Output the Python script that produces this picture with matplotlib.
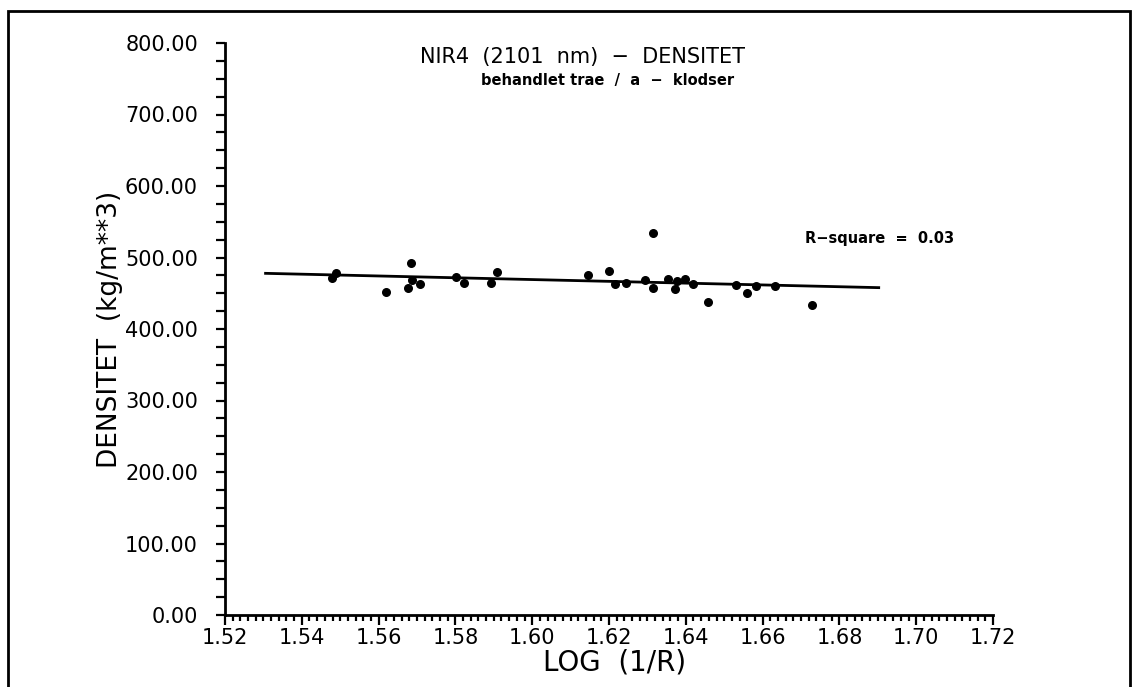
import matplotlib

matplotlib.use("Agg")
import matplotlib.pyplot as plt
from matplotlib.patches import Rectangle
from matplotlib.ticker import MultipleLocator, FormatStrFormatter

log_r = [
    1.5478, 1.5489, 1.5618, 1.5684, 1.5677, 1.5686, 1.5708, 1.5801, 1.5823,
    1.5892, 1.5909, 1.6145, 1.6201, 1.6216, 1.6244, 1.6294, 1.6315, 1.6315,
    1.6354, 1.6372, 1.6378, 1.6398, 1.6418, 1.6457, 1.6531, 1.6559, 1.6583,
    1.6632, 1.6729,
]
densitet = [
    471.7, 478.7, 451.3, 492.3, 456.9, 468.5, 462.5, 473.2, 464.8,
    463.9, 479.3, 475.5, 481.5, 462.5, 464.8, 468.5, 458.0, 534.7,
    469.5, 455.5, 467.1, 469.5, 463.0, 438.2, 461.1, 450.8, 459.7,
    459.7, 433.1,
]

# regression line end points
fit_x = [1.5302, 1.6906]
fit_y = [477.9, 457.8]

r_square = 0.03

W, H = 1138, 687
fig = plt.figure(figsize=(W / 100, H / 100), dpi=100)
ax = fig.add_axes([225 / W, 1 - 615 / H, (993 - 225) / W, (615 - 43) / H])

ax.plot(fit_x, fit_y, color="black", lw=2.0, solid_capstyle="butt")
ax.scatter(log_r, densitet, s=30, color="black", zorder=3)

ax.set_xlim(1.52, 1.72)
ax.set_ylim(0, 800)
ax.xaxis.set_major_locator(MultipleLocator(0.02))
ax.xaxis.set_minor_locator(MultipleLocator(0.002))
ax.yaxis.set_major_locator(MultipleLocator(100))
ax.yaxis.set_minor_locator(MultipleLocator(25))
ax.xaxis.set_major_formatter(FormatStrFormatter("%.2f"))
ax.yaxis.set_major_formatter(FormatStrFormatter("%.2f"))

for side in ("top", "right"):
    ax.spines[side].set_visible(False)
for side in ("left", "bottom"):
    ax.spines[side].set_linewidth(2.0)

ax.tick_params(axis="both", which="both", direction="out", width=1.6, labelsize=15)
ax.tick_params(axis="x", which="major", length=7, pad=2)
ax.tick_params(axis="x", which="minor", length=4.5)
ax.tick_params(axis="y", which="major", length=6.5, pad=13)
ax.tick_params(axis="y", which="minor", length=6.5)

ax.set_xlabel("LOG  (1/R)", fontsize=20)
ax.xaxis.set_label_coords((615 - 225) / (993 - 225), -(649 - 615) / (615 - 43))
ax.set_ylabel("DENSITET  (kg/m**3)", fontsize=19)
ax.yaxis.set_label_coords(-(225 - 123) / (993 - 225), 0.5)

fig.text(583 / W, 1 - 57 / H, "NIR4  (2101  nm)  \u2212  DENSITET",
         fontsize=15, ha="center", va="center")
fig.text(608 / W, 1 - 80 / H, "behandlet trae  /  a  \u2212  klodser",
         fontsize=10.5, fontweight="bold", ha="center", va="center")
fig.text(805 / W, 1 - 238 / H, f"R\u2212square  =  {r_square:.2f}",
         fontsize=10.5, fontweight="bold", ha="left", va="center")

# outer frame of the scanned page
fig.patches.append(Rectangle((8 / W, -0.02), (1130 - 8) / W, 1.02 - 11 / H,
                             transform=fig.transFigure, fill=False,
                             lw=2.0, color="black"))

fig.savefig("out.png", dpi=100)
